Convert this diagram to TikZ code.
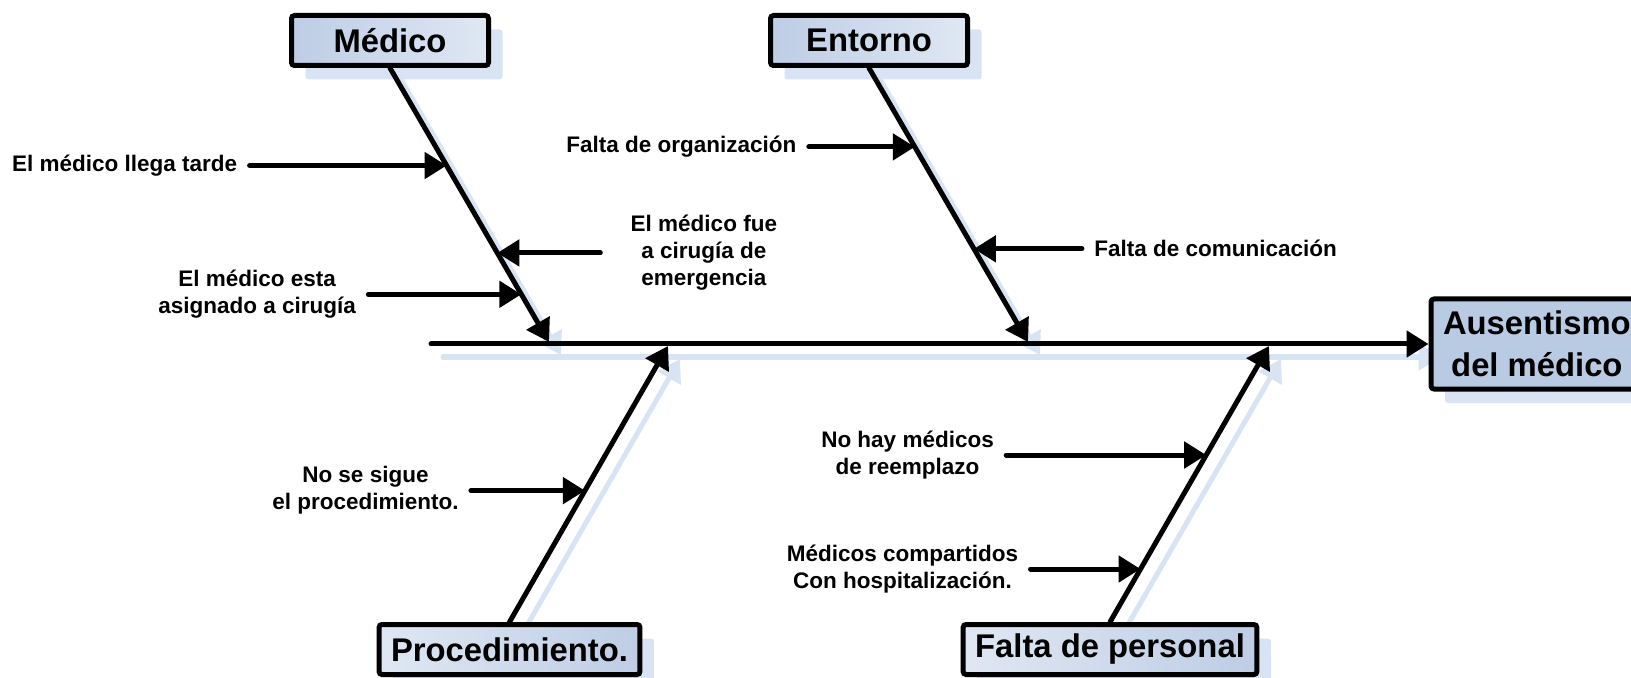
\documentclass[tikz,border=0pt]{standalone}
\usepackage{fontspec}
\setmainfont{Liberation Sans}
\usepackage{tikz}
\usetikzlibrary{positioning,calc,arrows.meta,shadows,backgrounds}

\definecolor{boxdark}{HTML}{BECDE5}
\definecolor{boxlight}{HTML}{DFE7F3}
\definecolor{boxmid}{HTML}{B9CAE3}
\definecolor{ghostblue}{HTML}{D8E3F3}

\tikzset{
  cause/.style={draw, line width=2.5pt, rounded corners=1.5pt, align=center,
    font=\fontsize{16.4}{21}\selectfont\bfseries, inner xsep=6pt, inner ysep=2pt,
    minimum height=25pt, left color=boxdark, right color=boxlight,
    general shadow={fill=ghostblue, shadow xshift=7pt, shadow yshift=-7pt}},
  sub/.style={font=\fontsize{11.25}{13.5}\selectfont\bfseries, align=center,
    inner xsep=6pt, inner ysep=1pt},
  bone/.style={line width=2.5pt, line cap=round, -{Triangle[length=11pt,width=13pt]}},
  ghost/.style={bone, draw=ghostblue, transform canvas={shift={(6pt,-6.5pt)}}},
  twig/.style={bone}
}

\begin{document}
\begin{tikzpicture}[x=0.5pt,y=-0.5pt]
\useasboundingbox (0,0) rectangle (1631,678);

\node[cause, minimum width=98.5pt] (medico) at (390,40.5) {Médico};
\node[cause, minimum width=98.5pt] (entorno) at (869,40.5) {Entorno};
\node[cause, left color=boxlight, right color=boxdark] (proc) at (509.5,649.5) {Procedimiento.};
\node[cause, left color=boxlight, right color=boxdark] (falta) at (1110,649.5) {Falta de personal};
\node[cause, left color=boxmid, right color=boxmid, anchor=west, minimum width=105.5pt,
  minimum height=45pt] (efecto) at (1428.5,344) {Ausentismo\\del médico};

\coordinate (tail) at (431,344);
\coordinate (mtip) at (549,342);
\coordinate (etip) at (1028,342);
\coordinate (ptip) at (668,346);
\coordinate (ftip) at (1269,346);

\begin{scope}[on background layer]
  \draw[ghost] (tail) -- (efecto.west);
  \draw[ghost] (medico.south) -- (mtip);
  \draw[ghost] (entorno.south) -- (etip);
  \draw[ghost] (proc.north) -- (ptip);
  \draw[ghost] (falta.north) -- (ftip);
\end{scope}

\draw[bone] (tail) -- (efecto.west);
\draw[bone] (medico.south) -- (mtip);
\draw[bone] (entorno.south) -- (etip);
\draw[bone] (proc.north) -- (ptip);
\draw[bone] (falta.north) -- (ftip);

\coordinate (m1) at ($(medico.south)!0.356!(mtip)$);
\coordinate (m2) at ($(medico.south)!0.675!(mtip)$);
\coordinate (m3) at ($(medico.south)!0.826!(mtip)$);
\coordinate (e1) at ($(entorno.south)!0.288!(etip)$);
\coordinate (e2) at ($(entorno.south)!0.660!(etip)$);
\coordinate (p1) at ($(proc.north)!0.476!(ptip)$);
\coordinate (f1) at ($(falta.north)!0.605!(ftip)$);
\coordinate (f2) at ($(falta.north)!0.192!(ftip)$);

\node[sub, left=98.5pt of m1] (tarde) {El médico llega tarde};
\node[sub, right=51.5pt of m2, inner xsep=15pt] (urgencia) {El médico fue\\a cirugía de\\emergencia};
\node[sub, left=76.5pt of m3] (asignado) {El médico esta\\asignado a cirugía};
\node[sub, left=53pt of e1] (organiza) {Falta de organización};
\node[sub, right=54pt of e2] (comunica) {Falta de comunicación};
\node[sub, left=57pt of p1] (sigue) {No se sigue\\el procedimiento.};
\node[sub, left=100pt of f1] (reemplazo) {No hay médicos\\de reemplazo};
\node[sub, left=55pt of f2] (compartidos) {Médicos compartidos\\Con hospitalización.};

\draw[twig] (tarde) -- (m1);
\draw[twig] (urgencia) -- (m2);
\draw[twig] (asignado) -- (m3);
\draw[twig] (organiza) -- (e1);
\draw[twig] (comunica) -- (e2);
\draw[twig] (sigue) -- (p1);
\draw[twig] (reemplazo) -- (f1);
\draw[twig] (compartidos) -- (f2);
\end{tikzpicture}
\end{document}
